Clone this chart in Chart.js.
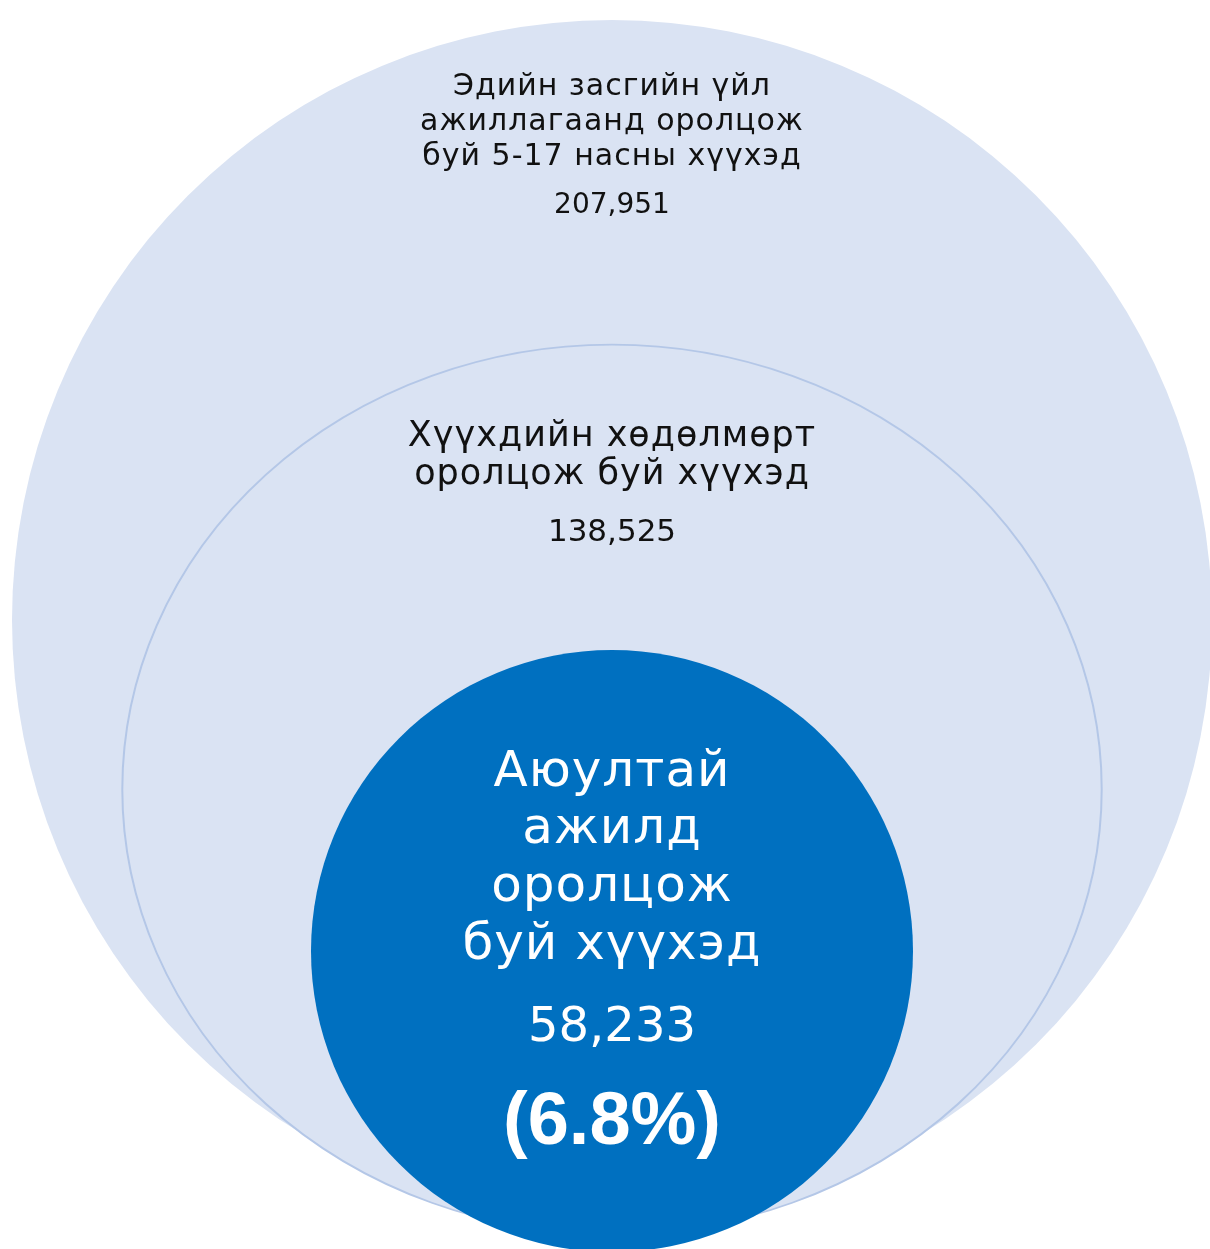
<!DOCTYPE html>
<html>
<head>
<meta charset="utf-8">
<script src="https://cdn.jsdelivr.net/npm/chart.js@4.4.1/dist/chart.umd.min.js"></script>
<style>
  html, body { margin: 0; padding: 0; background: #ffffff; }
  #wrap { width: 1210px; height: 1249px; position: relative; }
</style>
</head>
<body>
<div id="wrap"><canvas id="rings"></canvas></div>
<script>

/* DATA */

const ringNames = [
    ["Эдийн засгийн үйл", "ажиллагаанд оролцож", "буй 5-17 насны хүүхэд"],
    ["Хүүхдийн хөдөлмөрт", "оролцож буй хүүхэд"],
    ["Аюултай", "ажилд", "оролцож", "буй хүүхэд"]
]

const ringValues = [207951, 138525, 58233]

const ringShare = ["", "", "(6.8%)"]


/* STYLE */

const ringStyle = [
    { fill: "#DAE3F3", border: "#DAE3F3", width: 0, size: 1, squish: 1, sink: 0,
      text: "#111111", font: "30px 'DejaVu Sans'", numFont: "28px 'DejaVu Sans'", spacing: "1px",
      lines: [67, 102, 137], num: 186 },
    { fill: "#DAE3F3", border: "#B4C7E7", width: 2, size: 1, squish: 0.908, sink: 0.0233,
      text: "#111111", font: "35px 'DejaVu Sans'", numFont: "31px 'DejaVu Sans'", spacing: "1px",
      lines: [92, 130], num: 188 },
    { fill: "#0070C0", border: "#0070C0", width: 0, size: 0.948, squish: 1, sink: 0.0533,
      text: "#ffffff", font: "50px 'DejaVu Sans'", numFont: "48px 'DejaVu Sans'", spacing: "1px",
      lines: [123, 180, 238, 296], num: 379, share: 474, shareFont: "bold 74px 'Liberation Sans'" }
]

const unit = 600 // pixels for the biggest ring radius


/* RAIO PROPORCIONAL A AREA */

const maxValue = Math.max(...ringValues)
const radii = ringValues.map(v => Math.sqrt(v / maxValue))

function ringPoint(i, xs) {
    const st = ringStyle[i]
    const r = xs ? xs.getPixelForValue(radii[i] * st.size) - xs.getPixelForValue(0) : 0
    return { x: 0, y: radii[i] * st.size * st.squish - st.sink, r: r }
}


/* PLUGINS */

const squishPlugin = {
    id: "squish",
    beforeDatasetDraw(chart, args) {
        const st = ringStyle[args.index]
        const el = chart.getDatasetMeta(args.index).data[0]
        const ctx = chart.ctx
        ctx.save()
        ctx.translate(el.x, el.y)
        ctx.scale(1, st.squish)
        ctx.translate(-el.x, -el.y)
    },
    afterDatasetDraw(chart) {
        chart.ctx.restore()
    }
}

const labelPlugin = {
    id: "ringLabels",
    afterDatasetsDraw(chart) {
        const ctx = chart.ctx
        ctx.save()
        ctx.textAlign = "center"
        ctx.textBaseline = "middle"
        ringValues.forEach((v, i) => {
            const st = ringStyle[i]
            const el = chart.getDatasetMeta(i).data[0]
            const top = el.y - el.options.radius * st.squish
            ctx.fillStyle = st.text
            ctx.font = st.font
            ctx.letterSpacing = st.spacing
            ringNames[i].forEach((line, j) => {
                ctx.fillText(line, el.x, top + st.lines[j])
            })
            ctx.letterSpacing = "0px"
            ctx.font = st.numFont
            ctx.fillText(v.toLocaleString("en-US"), el.x, top + st.num)
            if (ringShare[i]) {
                ctx.font = st.shareFont
                ctx.fillText(ringShare[i], el.x, top + st.share)
            }
        })
        ctx.restore()
    }
}


/* GRAFICO */

const chart = new Chart(document.getElementById("rings"), {

    type: "bubble",

    data: {
        datasets: ringValues.map((v, i) => ({
            label: ringNames[i].join(" "),
            data: [ringPoint(i, null)],
            backgroundColor: ringStyle[i].fill,
            borderColor: ringStyle[i].border,
            borderWidth: ringStyle[i].width,
            order: ringValues.length - i,
            clip: false
        }))
    },

    options: {
        responsive: true,
        maintainAspectRatio: false,
        animation: false,
        events: [],
        layout: { padding: 0, autoPadding: false },
        scales: {
            x: { type: "linear", display: false, min: -612 / unit, max: 598 / unit },
            y: { type: "linear", display: false, min: -29 / unit, max: 1220 / unit }
        },
        plugins: {
            legend: { display: false },
            tooltip: { enabled: false }
        }
    },

    plugins: [squishPlugin, labelPlugin]

})

/* RAIO EM PIXELS PELA ESCALA X */

chart.data.datasets.forEach((ds, i) => {
    ds.data = [ringPoint(i, chart.scales.x)]
})
chart.update()

</script>
</body>
</html>
